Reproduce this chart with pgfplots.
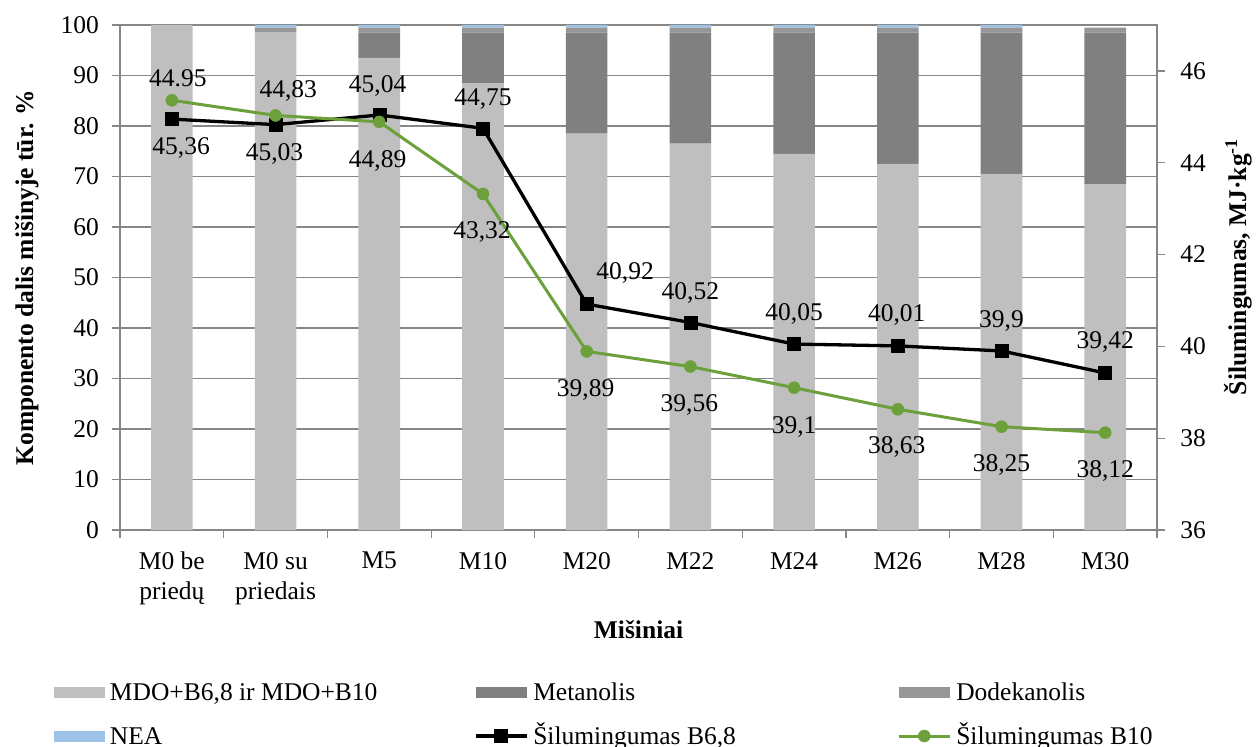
\documentclass[border=0pt]{standalone}
\usepackage{fontspec}
\setmainfont{Liberation Serif}
\usepackage{pgfplots}
\pgfplotsset{compat=1.18}
\usepackage{pgfplotstable}
\definecolor{mdo}{RGB}{191,191,191}
\definecolor{met}{RGB}{128,128,128}
\definecolor{dod}{RGB}{150,150,150}
\definecolor{nea}{RGB}{157,195,230}
\definecolor{axgray}{RGB}{134,134,134}
\definecolor{grgreen}{RGB}{107,160,58}
\pgfplotsset{mylinelegend/.style={legend image code/.code={\draw[mark repeat=2,mark phase=2,##1,sharp plot] plot coordinates {(0bp,2bp) (25.5bp,2bp) (51bp,2bp)};}}}

\pgfplotstableread{
x mdo met dod nea
0 100 0 0 0
1 98.5 0 1 0.5
2 93.5 5 1 0.5
3 88.5 10 1 0.5
4 78.5 20 1 0.5
5 76.5 22 1 0.5
6 74.5 24 1 0.5
7 72.5 26 1 0.5
8 70.5 28 1 0.5
9 68.5 30 1 0
}\bars

\pgfplotstableread{
x y lab dx dy
0 44.95 44.95 6 32.9
1 44.83 44,83 12.7 26.8
2 45.04 45,04 -1.6 22.1
3 44.75 44,75 0 23.2
4 40.92 40,92 38.4 24.8
5 40.52 40,52 0 23.1
6 40.05 40,05 0 23.5
7 40.01 40,01 -1 24.2
8 39.9 39,9 0 23.9
9 39.42 39,42 0 24.1
}\blk

\pgfplotstableread{
x y lab dx dy
0 45.36 45,36 9.3 -53.8
1 45.03 45,03 -1 -45.2
2 44.89 44,89 -1.6 -45.5
3 43.32 43,32 -1 -44.2
4 39.89 39,89 -1 -45.5
5 39.56 39,56 -1 -45.2
6 39.1 39,1 0 -45.8
7 38.63 38,63 -1 -44.5
8 38.25 38,25 0 -45.1
9 38.12 38,12 0 -45.1
}\grn

\begin{document}
\fontsize{25.5bp}{29.5bp}\selectfont
\begin{tikzpicture}
\useasboundingbox (-120bp,-217bp) rectangle (1137bp,530bp);
\begin{axis}[name=main, at={(0,0)}, anchor=south west,
  scale only axis, width=1037bp, height=505bp,
  xmin=-0.5, xmax=9.5, ymin=0, ymax=100,
  ytick={0,10,...,100},
  xtick={0,...,9},
  xticklabels={{M0 be\\priedų},{M0 su\\priedais},M5,M10,M20,M22,M24,M26,M28,M30},
  minor xtick={-0.5,0.5,...,9.5},
  major x tick style={draw=none},
  tick align=outside, major tick length=8bp, minor tick length=8bp,
  xtick pos=bottom, ytick pos=left,
  every tick/.append style={axgray, line width=1.2bp},
  axis line style={axgray, line width=1.2bp},
  ymajorgrids, grid style={axgray, line width=1.2bp},
  ybar stacked, bar width=41.6bp,
  /pgf/number format/assume math mode=true,
  xticklabel style={align=center, anchor=north, inner sep=0pt, yshift=-14bp, font=\fontsize{25.5bp}{30bp}\selectfont},
  yticklabel style={anchor=east, inner sep=0pt, xshift=-13bp},
  ylabel={\textbf{Komponento dalis mišinyje tūr. \%}},
  ylabel style={at={(axis description cs:-0.0897,0.5)}, anchor=center},
  xlabel={\textbf{Mišiniai}},
  xlabel style={at={(axis description cs:0.5,-0.2158)}, anchor=base},
  legend columns=3,
  legend cell align=left,
  legend style={at={(axis description cs:-0.06365,-0.30297)}, anchor=north west,
    draw=none, fill=none, inner sep=0pt, outer sep=0pt,
    column sep=0pt, row sep=22bp,
    nodes={inner sep=0pt, text height=17bp, text depth=5bp}},
  legend image code/.code={\fill[#1] (0bp,-3.5bp) rectangle (51bp,7.5bp);},
]
\addplot[fill=mdo, draw=none] table[x=x, y=mdo] {\bars};
\addlegendentry{\hspace{5bp}\makebox[364bp][l]{MDO+B6,8 ir MDO+B10}}
\addplot[fill=met, draw=none] table[x=x, y=met] {\bars};
\addlegendentry{\hspace{5bp}\makebox[364bp][l]{Metanolis}}
\addplot[fill=dod, draw=none] table[x=x, y=dod] {\bars};
\addlegendentry{\hspace{5bp}\makebox[364bp][l]{Dodekanolis}}
\addplot[fill=nea, draw=none] table[x=x, y=nea] {\bars};
\addlegendentry{\hspace{5bp}\makebox[364bp][l]{NEA}}
\addlegendimage{mylinelegend, black, line width=3.3bp, mark=square*, mark size=6.5bp, mark options={line width=0.5bp, fill=black}}
\addlegendentry{\hspace{5bp}\makebox[364bp][l]{Šilumingumas B6,8}}
\addlegendimage{mylinelegend, grgreen, line width=3bp, mark=*, mark size=6bp, mark options={line width=0.5bp, fill=grgreen}}
\addlegendentry{\hspace{5bp}\makebox[364bp][l]{Šilumingumas B10}}
\end{axis}
\begin{axis}[at={(0,0)}, anchor=south west,
  scale only axis, width=1037bp, height=505bp,
  xmin=-0.5, xmax=9.5, ymin=36, ymax=47,
  axis y line*=right, axis x line=none,
  ytick={36,38,...,46},
  tick align=outside, major tick length=8bp,
  every tick/.append style={axgray, line width=1.2bp},
  axis line style={axgray, line width=1.2bp},
  /pgf/number format/assume math mode=true,
  yticklabel style={anchor=west, inner sep=0pt, xshift=15bp},
  ylabel={\textbf{Šilumingumas, MJ·kg\textsuperscript{-1}}},
  ylabel style={at={(axis description cs:1.078,0.521)}, anchor=center},
  clip=false,
  nodes near coords, point meta=explicit symbolic,
  visualization depends on={\thisrow{dx} \as \ldx},
  visualization depends on={\thisrow{dy} \as \ldy},
  every node near coord/.append style={anchor=base, xshift=\ldx bp, yshift=\ldy bp, inner sep=0pt, text=black, font=\fontsize{25.5bp}{29.5bp}\selectfont},
]
\addplot[black, line width=3.3bp, mark=square*, mark size=6.5bp, mark options={line width=0.5bp, fill=black}]
  table[x=x, y=y, meta=lab] {\blk};
\addplot[grgreen, line width=3bp, mark=*, mark size=6bp, mark options={line width=0.5bp, fill=grgreen}]
  table[x=x, y=y, meta=lab] {\grn};
\end{axis}
\end{tikzpicture}
\end{document}
